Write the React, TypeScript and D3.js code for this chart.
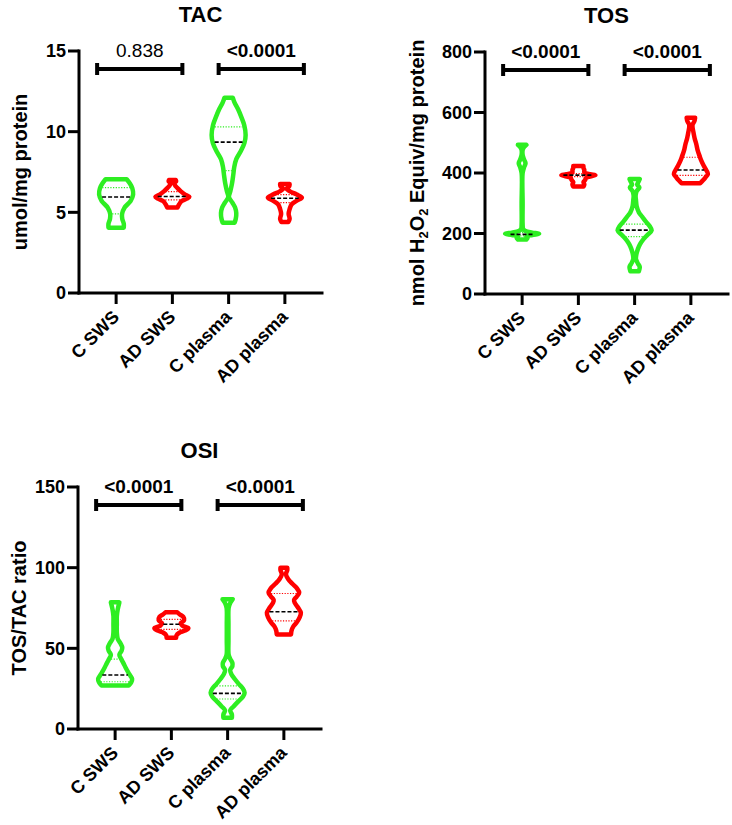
import React from "react";
import * as d3 from "d3";

type Prof = [number, number][];

const categories = ["C SWS", "AD SWS", "C plasma", "AD plasma"];
const groupColors = ["#2eee22", "#ff0000", "#2eee22", "#ff0000"];

// ---- TAC ----
const tacTicks = [0, 5, 10, 15];
const tacCSWS: Prof = [[4.05,0.45],[4.3,0.45],[4.6,0.36],[4.9,0.35],[5.3,0.5],[5.7,0.85],[6.1,1.0],[6.5,0.95],[6.8,0.8],[7.05,0.62]];
const tacADSWS: Prof = [[5.3,0.3],[5.5,0.4],[5.7,0.55],[5.85,0.85],[5.97,1.0],[6.1,0.75],[6.3,0.5],[6.5,0.3],[6.7,0.14],[6.82,0.12],[6.92,0.22],[7.0,0.2]];
const tacCPlasma: Prof = [[4.35,0.35],[4.6,0.42],[4.95,0.45],[5.3,0.38],[5.6,0.22],[5.95,0.02],[6.3,0.1],[6.8,0.2],[7.3,0.27],[7.8,0.33],[8.3,0.45],[8.8,0.72],[9.3,0.93],[9.8,1.0],[10.4,0.92],[10.9,0.75],[11.4,0.55],[11.8,0.35],[12.1,0.25]];
const tacADPlasma: Prof = [[4.4,0.2],[4.6,0.28],[4.9,0.22],[5.2,0.28],[5.5,0.4],[5.75,0.75],[5.92,1.0],[6.1,0.7],[6.3,0.3],[6.45,0.1],[6.6,0.25],[6.75,0.28]];
const tacMedian = [5.95, 5.98, 9.35, 5.87];
const tacQ1 = [4.9, 5.77, 7.58, 5.6];
const tacQ3 = [6.53, 6.28, 10.3, 6.1];
const tacP = ["0.838", "<0.0001"];
const tacPBold = [false, true];

// ---- TOS ----
const tosTicks = [0, 200, 400, 600, 800];
const tosCSWS: Prof = [[180,0.25],[185,0.32],[190,0.25],[195,0.6],[199,1.0],[203,0.6],[208,0.2],[215,0.06],[230,0.03],[300,0.03],[400,0.03],[420,0.12],[432,0.2],[444,0.12],[460,0.03],[480,0.05],[493,0.25]];
const tosADSWS: Prof = [[355,0.3],[362,0.35],[370,0.3],[377,0.4],[384,0.45],[390,0.8],[393,1.0],[396,0.7],[402,0.35],[410,0.35],[417,0.3],[423,0.3]];
const tosCPlasma: Prof = [[75,0.25],[90,0.3],[100,0.2],[115,0.08],[130,0.1],[150,0.2],[165,0.32],[180,0.5],[195,0.75],[210,1.0],[225,0.88],[240,0.65],[255,0.45],[270,0.25],[290,0.12],[310,0.08],[325,0.06],[340,0.12],[352,0.28],[362,0.15],[370,0.22],[380,0.3]];
const tosADPlasma: Prof = [[366,0.55],[375,0.7],[385,0.85],[397,1.0],[410,0.9],[425,0.75],[440,0.62],[455,0.52],[475,0.4],[495,0.32],[515,0.22],[535,0.15],[550,0.1],[560,0.1],[570,0.2],[583,0.25]];
const tosMedian = [197, 393, 211, 410];
const tosQ1 = [192, 388, 190, 392];
const tosQ3 = [203, 398, 231, 452];
const tosP = ["<0.0001", "<0.0001"];
const tosPBold = [true, true];

// ---- OSI ----
const osiTicks = [0, 50, 100, 150];
const osiCSWS: Prof = [[27,0.8],[29,0.95],[31,1.0],[33,0.9],[35,0.78],[38,0.62],[41,0.48],[43.5,0.35],[46,0.25],[48.5,0.38],[50.5,0.42],[53,0.32],[56,0.15],[60,0.1],[65,0.1],[70,0.1],[74,0.15],[78.5,0.25]];
const osiADSWS: Prof = [[56.5,0.28],[58,0.3],[59.5,0.45],[61,0.8],[62.5,1.0],[64,0.65],[65.5,0.55],[67.5,0.75],[69.5,0.7],[71,0.5],[72.3,0.35]];
const osiCPlasma: Prof = [[7,0.25],[9,0.25],[11.5,0.15],[14,0.35],[17,0.62],[20,0.9],[22.5,1.0],[25,0.9],[28,0.65],[31,0.42],[34,0.22],[36.5,0.15],[39,0.28],[41,0.28],[43.5,0.15],[46,0.06],[55,0.05],[65,0.05],[75,0.06],[78,0.15],[80.5,0.3]];
const osiADPlasma: Prof = [[58.6,0.42],[61,0.45],[63.5,0.55],[66,0.75],[69,0.92],[72,1.0],[75,0.85],[78,0.65],[80,0.6],[82,0.75],[84.5,0.9],[87,0.78],[90,0.5],[93,0.25],[96,0.12],[98.5,0.2],[100,0.2]];
const osiMedian = [33.5, 64.9, 22.1, 72.7];
const osiQ1 = [29.3, 61.8, 18.6, 67];
const osiQ3 = [43.3, 68, 26.7, 84];
const osiP = ["<0.0001", "<0.0001"];
const osiPBold = [true, true];

const FONT = "'Liberation Sans', Arial, Helvetica, sans-serif";

type PanelDef = {
  title: string;
  yLabel: React.ReactNode;
  yLabelOffset: number;
  domain: [number, number];
  ticks: number[];
  violins: Prof[];
  median: number[];
  q1: number[];
  q3: number[];
  pvals: string[];
  pbold: boolean[];
  axisX: number;
  yTop: number;
};

function Panel({ p }: { p: PanelDef }) {
  const yBottom = p.yTop + 242;
  const xEnd = p.axisX + 243;
  const y = d3.scaleLinear().domain(p.domain).range([yBottom, p.yTop]);
  const x = d3.scalePoint<string>().domain(categories).range([p.axisX, xEnd]).padding(0.66);
  const w = d3.scaleLinear().domain([0, 1]).range([0, 17]);

  const bracketY = p.yTop + 18;
  const brackets: [number, number][] = [
    [(x(categories[0]) as number) - 19, (x(categories[1]) as number) + 10],
    [(x(categories[2]) as number) - 10, (x(categories[3]) as number) + 19],
  ];

  return (
    <g fontFamily={FONT}>
      <text x={(p.axisX + xEnd) / 2} y={p.yTop - 29} textAnchor="middle" fontWeight="bold" fontSize={22}>{p.title}</text>
      <text transform={`translate(${p.axisX - p.yLabelOffset},${(p.yTop + yBottom) / 2}) rotate(-90)`} textAnchor="middle" fontWeight="bold" fontSize={20}>{p.yLabel}</text>
      <line x1={p.axisX} x2={p.axisX} y1={p.yTop} y2={yBottom} stroke="#000" strokeWidth={3} strokeLinecap="square" />
      <line x1={p.axisX} x2={xEnd} y1={yBottom} y2={yBottom} stroke="#000" strokeWidth={3} strokeLinecap="square" />
      {p.ticks.map((t) => (
        <g key={t}>
          <line x1={p.axisX - 11} x2={p.axisX} y1={y(t)} y2={y(t)} stroke="#000" strokeWidth={3} />
          <text x={p.axisX - 13} y={y(t)} dy="0.36em" textAnchor="end" fontWeight="bold" fontSize={18}>{t}</text>
        </g>
      ))}
      {categories.map((c) => {
        const cx = x(c) as number;
        return (
          <g key={c}>
            <line x1={cx} x2={cx} y1={yBottom} y2={yBottom + 11} stroke="#000" strokeWidth={3} />
            <text transform={`translate(${cx + 4},${yBottom + 25}) rotate(-45)`} textAnchor="end" fontWeight="bold" fontSize={18}>{c}</text>
          </g>
        );
      })}
      {p.violins.map((prof, i) => {
        const cx = x(categories[i]) as number;
        const col = groupColors[i];
        const area = d3
          .area<[number, number]>()
          .y((d) => y(d[0]))
          .x0((d) => cx - w(d[1]))
          .x1((d) => cx + w(d[1]))
          .curve(d3.curveCatmullRom);
        const interp = d3.scaleLinear().domain(prof.map((d) => d[0])).range(prof.map((d) => d[1])).clamp(true);
        const hl = (v: number) => Math.max(0, w(interp(v)) - 2);
        return (
          <g key={i}>
            <path d={area(prof) || ""} fill="none" stroke={col} strokeWidth={4.5} strokeLinejoin="round" />
            {[p.q1[i], p.q3[i]].map((q, k) => (
              <line key={k} x1={cx - hl(q)} x2={cx + hl(q)} y1={y(q)} y2={y(q)} stroke={col} strokeWidth={1.2} strokeDasharray="1.2,1.5" />
            ))}
            <line x1={cx - hl(p.median[i])} x2={cx + hl(p.median[i])} y1={y(p.median[i])} y2={y(p.median[i])} stroke="#000" strokeWidth={1.6} strokeDasharray="4,2" />
          </g>
        );
      })}
      {brackets.map(([a, b], k) => (
        <g key={k}>
          <path d={`M${a},${bracketY - 6}V${bracketY + 6}M${a},${bracketY}H${b}M${b},${bracketY - 6}V${bracketY + 6}`} stroke="#000" strokeWidth={4} fill="none" />
          <text x={(a + b) / 2} y={bracketY - 12} textAnchor="middle" fontSize={19} fontWeight={p.pbold[k] ? "bold" : "normal"}>{p.pvals[k]}</text>
        </g>
      ))}
    </g>
  );
}

export default function App() {
  const panels: PanelDef[] = [
    {
      title: "TAC",
      yLabel: "umol/mg protein",
      yLabelOffset: 52,
      domain: [0, 15],
      ticks: tacTicks,
      violins: [tacCSWS, tacADSWS, tacCPlasma, tacADPlasma],
      median: tacMedian, q1: tacQ1, q3: tacQ3,
      pvals: tacP, pbold: tacPBold,
      axisX: 79, yTop: 51,
    },
    {
      title: "TOS",
      yLabel: (
        <>
          nmol H<tspan fontSize={13} dy={4}>2</tspan><tspan dy={-4}>O</tspan><tspan fontSize={13} dy={4}>2</tspan><tspan dy={-4}> Equiv/mg protein</tspan>
        </>
      ),
      yLabelOffset: 61,
      domain: [0, 800],
      ticks: tosTicks,
      violins: [tosCSWS, tosADSWS, tosCPlasma, tosADPlasma],
      median: tosMedian, q1: tosQ1, q3: tosQ3,
      pvals: tosP, pbold: tosPBold,
      axisX: 485, yTop: 52,
    },
    {
      title: "OSI",
      yLabel: "TOS/TAC ratio",
      yLabelOffset: 52,
      domain: [0, 150],
      ticks: osiTicks,
      violins: [osiCSWS, osiADSWS, osiCPlasma, osiADPlasma],
      median: osiMedian, q1: osiQ1, q3: osiQ3,
      pvals: osiP, pbold: osiPBold,
      axisX: 78, yTop: 487,
    },
  ];
  return (
    <svg width={732} height={825} style={{ position: "absolute", left: 0, top: 0, background: "#fff" }}>
      <rect width={732} height={825} fill="#fff" />
      {panels.map((p) => (
        <Panel key={p.title} p={p} />
      ))}
    </svg>
  );
}
